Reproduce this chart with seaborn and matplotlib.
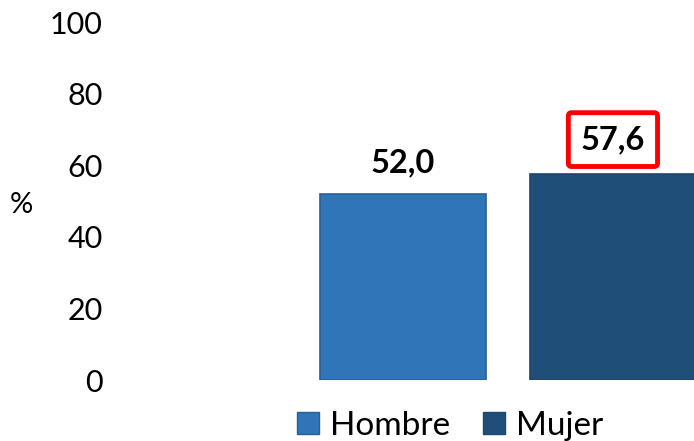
import pandas as pd
import seaborn as sns
import matplotlib.pyplot as plt
from matplotlib.patches import Patch

# Data
categorias = ['Hombre', 'Mujer']
valores = [52.0, 57.6]
etiquetas = ['52,0', '57,6']
colores = ['#2F75B7', '#1F4E79']
bordes = ['#2A5F93', '#1D4670']

df = pd.DataFrame({'sexo': categorias, 'pct': valores})

sns.set_style('white')
plt.rcParams['font.family'] = ['Lato', 'DejaVu Sans']
plt.rcParams['text.color'] = 'black'
plt.rcParams['ytick.color'] = 'black'

fig = plt.figure(figsize=(6.94, 4.41), dpi=100)
ax = fig.add_axes([111 / 694, 61 / 441, 583 / 694, 358 / 441])

sns.barplot(data=df, x='sexo', y='pct', hue='sexo', palette=colores,
            saturation=1, width=0.79, legend=False, ax=ax)
for bar, ec in zip(ax.patches, bordes):
    bar.set_edgecolor(ec)
    bar.set_linewidth(1.2)

ax.set_xlim(-1.39, 1.386)
ax.set_ylim(0, 100)
ax.set_yticks([0, 20, 40, 60, 80, 100])
ax.tick_params(axis='y', length=0, pad=6, labelsize=22, labelcolor='black')
ax.set_xticks([])
ax.set_xlabel('')
ax.set_ylabel('')
sns.despine(ax=ax, left=True, bottom=True)

# value labels
ax.text(0, valores[0] + 4.5, etiquetas[0], ha='center', va='bottom',
        fontsize=23.5, fontweight='bold')
ax.text(1, valores[1] + 5.5, etiquetas[1], ha='center', va='bottom',
        fontsize=23.5, fontweight='bold',
        bbox=dict(boxstyle='round,pad=0.38,rounding_size=0.1', fc='white',
                  ec='#FF0000', lw=3.5))

fig.text(10 / 694, 1 - 205 / 441, '%', fontsize=21, va='center', ha='left')

handles = [Patch(facecolor=c, edgecolor=e, label=l)
           for c, e, l in zip(colores, bordes, categorias)]
fig.legend(handles=handles, loc='center', bbox_to_anchor=(450 / 694, 1 - 426 / 441),
           ncol=2, frameon=False, fontsize=24, handlelength=0.65, handleheight=0.65,
           handletextpad=0.33, columnspacing=1.0, borderpad=0)

fig.savefig('out.png', dpi=100)
